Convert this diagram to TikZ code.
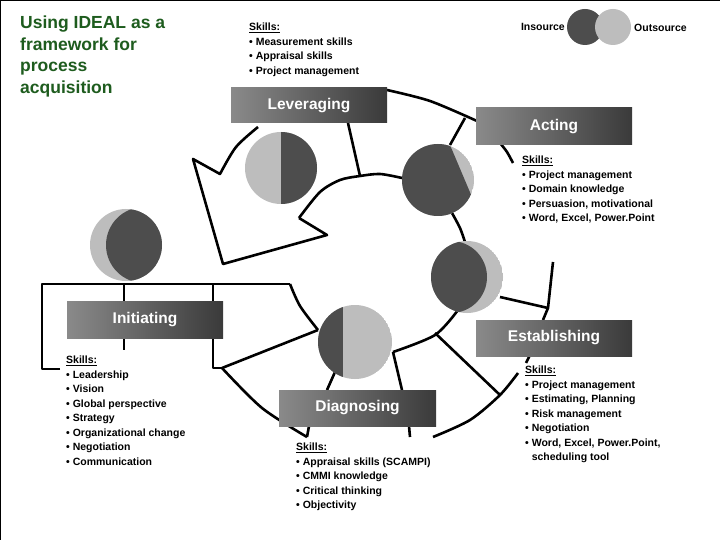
\documentclass[tikz,border=0pt]{standalone}
\usepackage{fontspec}
\setmainfont{Liberation Sans}
\definecolor{dk}{HTML}{4D4D4D}
\definecolor{lt}{HTML}{BDBDBD}
\definecolor{lblL}{HTML}{8A8A8A}
\definecolor{lblR}{HTML}{3A3A3A}
\definecolor{ttl}{HTML}{1E5C1E}
\begin{document}
\begin{tikzpicture}[x=1pt,y=-1pt,
  ln/.style={line width=2.6pt, line join=round},
  lbl/.style={left color=lblL, right color=lblR, text=white, font=\bfseries\fontsize{15.5}{17}\selectfont, minimum width=156pt, minimum height=36pt, inner sep=0pt},
  skills/.style={anchor=north west, align=left, inner sep=0pt, font=\bfseries\fontsize{10.5}{14.5}\selectfont}]
\useasboundingbox (0,0) rectangle (720,540);
\fill[white] (0,0) rectangle (720,540);
\draw[line width=1.5pt] (0,540) -- (0,0.5) -- (720,0.5);
% title
\node[anchor=north west, align=left, text=ttl, inner sep=0pt, font=\bfseries\fontsize{17.5}{21.5}\selectfont] (title) at (20,16) {Using IDEAL as a\\framework for\\process\\acquisition};
% ring lines
\draw[ln] plot[smooth] coordinates {(258,127) (236,147) (220,174)} -- (193,159) -- (223,264) -- (327,235) -- (299,218);
\draw[ln] plot[smooth] coordinates {(299,218) (320,192) (340,180) (360,176) (380,174) (402,178)};
\draw[ln] (348,123) -- (360,176);
\draw[ln] plot[smooth] coordinates {(387,90) (430,101) (477,121)};
\draw[ln] (450,145) -- (465,118);
\draw[ln] plot[smooth] coordinates {(452,213) (460,228) (465,242)};
\draw[ln] plot[smooth] coordinates {(500,143) (507,152) (513,163)};
\draw[ln] (553,262) -- (548,308) -- (543,320);
\draw[ln] (500,297) -- (548,308);
\draw[ln] (526,363) -- (530,355);
\draw[ln] plot[smooth] coordinates {(518,373) (500,395) (470,420) (433,437)};
\draw[ln] (435,333) -- (500,395);
\draw[ln] plot[smooth] coordinates {(458,310) (435,335) (393,352)};
\draw[ln] (393,352) -- (402,390);
\draw[ln] (409,426) -- (410,437);
\draw[ln] (335,372) -- (327,390);
\draw[ln] (309,426) -- (307,437);
\draw[ln] plot[smooth] coordinates {(222,368) (262,408) (307,437)};
\draw[ln] (222,368) -- (318,330);
\draw[ln] (60,369) -- (42,369) -- (42,284) -- (290,284);
\draw[ln] plot[smooth] coordinates {(290,284) (300,306) (318,330)};
\draw[ln] (213,284) -- (213,368) -- (222,368);
\draw[ln] (124,284) -- (124,301);
\draw[ln] (124,338) -- (124,350);
% pies
\fill[lt] (281,168) circle (36);
\fill[dk] (281,132) arc[start angle=-90,end angle=90,radius=36] -- cycle;
\begin{scope}
\clip (438,180) circle (36);
\fill[lt] (438,180) circle (36);
\fill[dk] (406,41) -- (516,301) -- (300,301) -- (300,41) -- cycle;
\end{scope}
\begin{scope}
\clip (467,277) circle (36);
\fill[lt] (467,277) circle (36);
\fill[dk] (451,277) circle (36);
\end{scope}
\begin{scope}
\clip (126,245) circle (36);
\fill[lt] (126,245) circle (36);
\fill[dk] (144,245) circle (38);
\end{scope}
\begin{scope}
\clip (355,342) circle (37);
\fill[lt] (355,342) circle (37);
\fill[dk] (300,300) rectangle (343,390);
\end{scope}
% labels
\node[lbl, minimum height=35pt] (lev) at (309,105.5) {Leveraging};
\node[lbl, minimum height=37pt] (act) at (554,126.5) {Acting};
\node[lbl, minimum height=37pt] (ini) at (145,319.5) {Initiating};
\node[lbl, minimum width=157pt] (dia) at (357.5,408) {Diagnosing};
\node[lbl] (est) at (554,338) {Establishing};
% legend
\fill[dk] (585,27) circle (18);
\fill[lt] (613,27) circle (18);
\node[anchor=east, inner sep=0pt, font=\bfseries\fontsize{10.5}{12}\selectfont] (ins) at (565,27) {Insource};
\node[anchor=west, inner sep=0pt, font=\bfseries\fontsize{10.5}{12}\selectfont] (outs) at (634,28) {Outsource};
% skills
\node[skills] (s1) at (249,23) {\underline{Skills:}\\• Measurement skills\\• Appraisal skills\\• Project management};
\node[skills] (s2) at (522,156) {\underline{Skills:}\\• Project management\\• Domain knowledge\\• Persuasion, motivational\\• Word, Excel, Power.Point};
\node[skills] (s3) at (66,356) {\underline{Skills:}\\• Leadership\\• Vision\\• Global perspective\\• Strategy\\• Organizational change\\• Negotiation\\• Communication};
\node[skills] (s4) at (296,443) {\underline{Skills:}\\• Appraisal skills (SCAMPI)\\• CMMI knowledge\\• Critical thinking\\• Objectivity};
\node[skills] (s5) at (525,366) {\underline{Skills:}\\• Project management\\• Estimating, Planning\\• Risk management\\• Negotiation\\• Word, Excel, Power.Point,\\\phantom{• }scheduling tool};
\end{tikzpicture}
\end{document}
